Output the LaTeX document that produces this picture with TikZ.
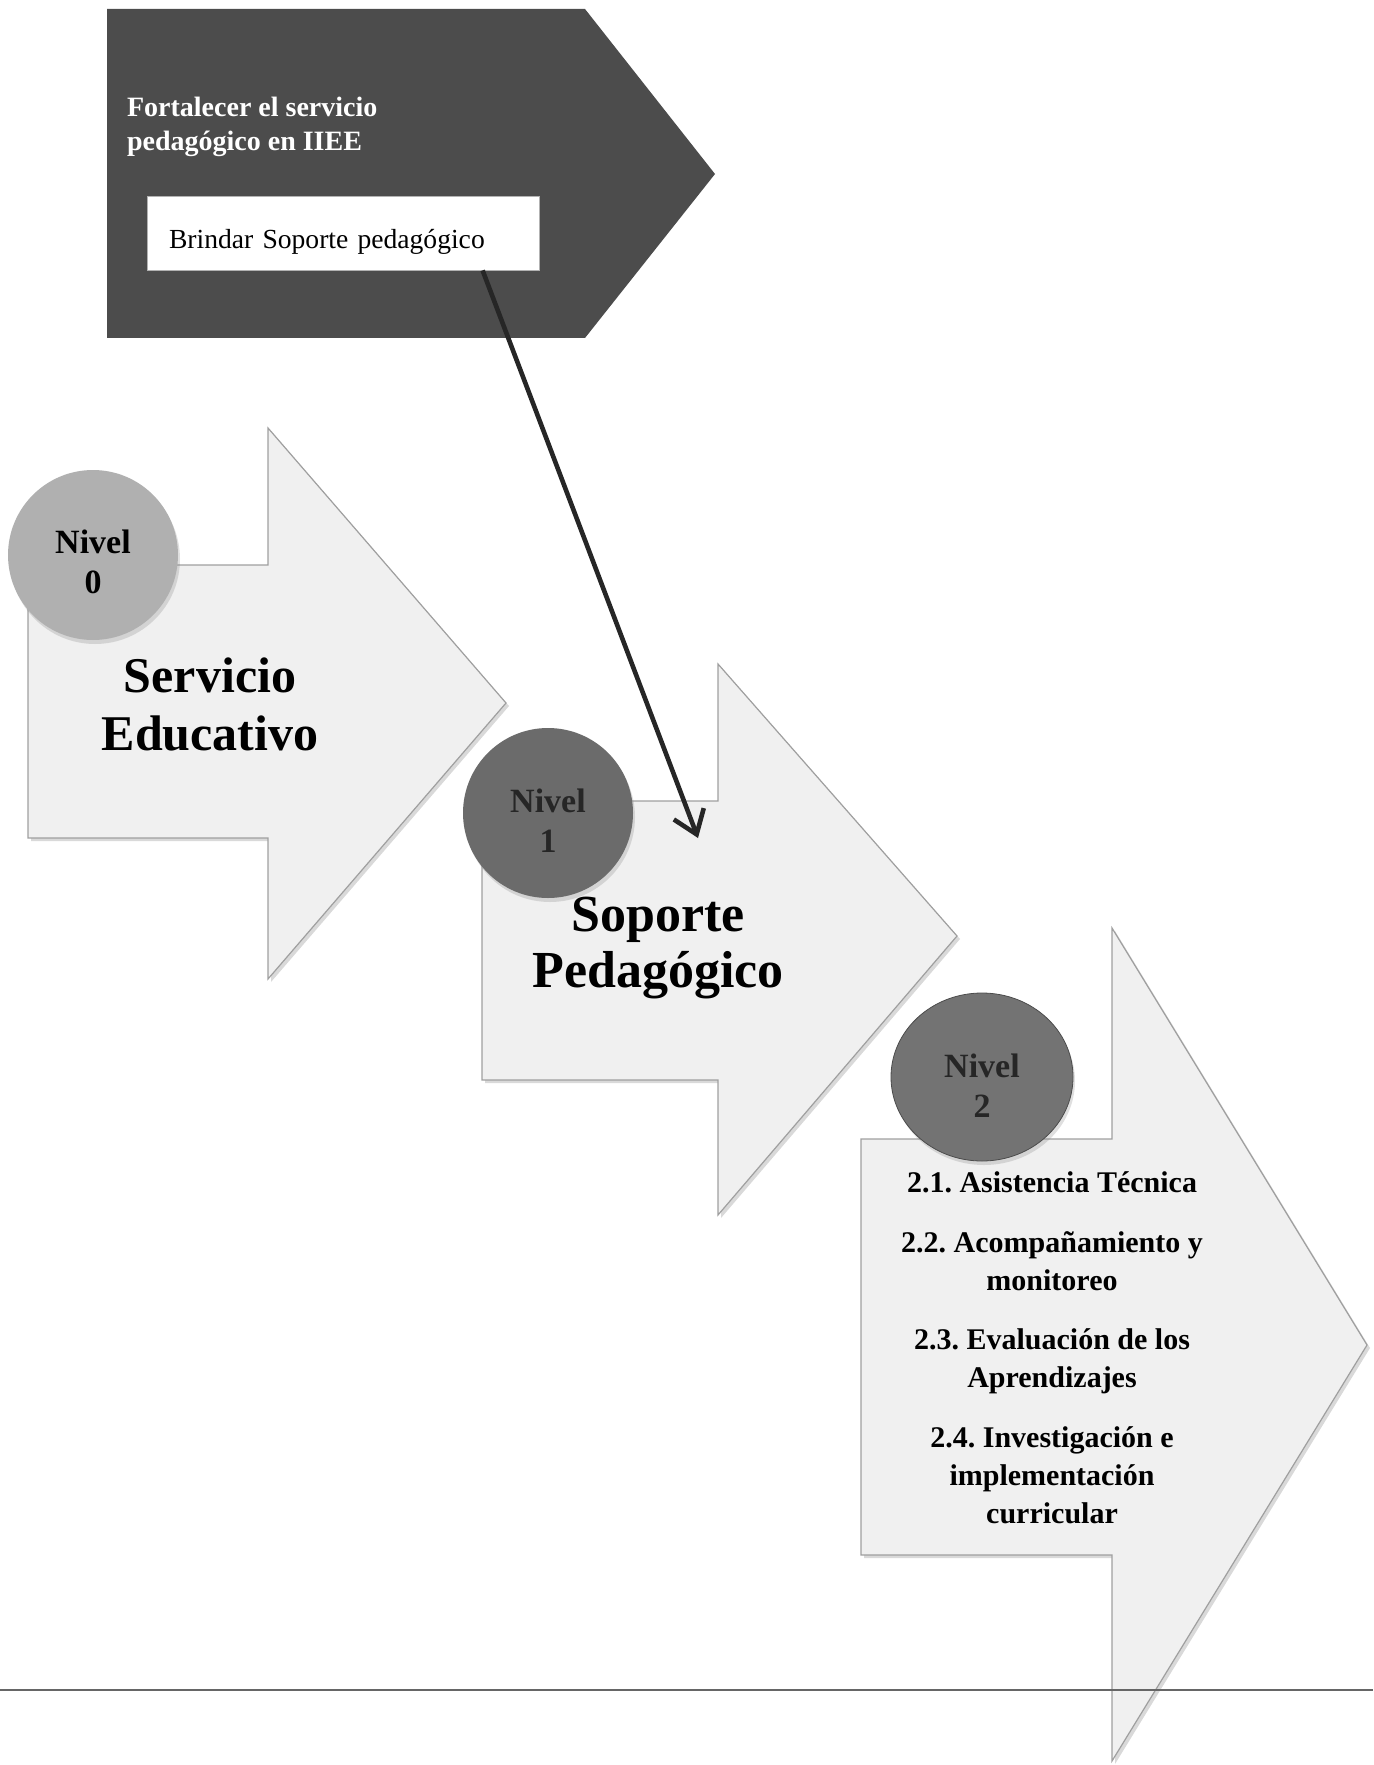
\documentclass[tikz,border=0pt]{standalone}
\usepackage{fontspec}
\setmainfont{Liberation Serif}
\usetikzlibrary{shapes.geometric,shadows,arrows.meta}
\frenchspacing

\begin{document}
\begin{tikzpicture}[x=0.5pt, y=-0.5pt, >={Straight Barb[length=11pt,width=16pt]},
        flecha/.style={fill=gray!12, draw=gray!75, line width=0.6pt,
            drop shadow={shadow xshift=1.5pt, shadow yshift=-1.5pt, opacity=0.3}},
        nivel/.style={circle, minimum size=85pt, inner sep=0pt, align=center,
            font=\fontsize{17}{20}\selectfont\bfseries,
            drop shadow={shadow xshift=1pt, shadow yshift=-2pt, opacity=0.25}},
        titulo/.style={align=center, font=\fontsize{25}{29}\selectfont\bfseries},
        item/.style={align=center, font=\fontsize{15}{19}\selectfont\bfseries}]
        \useasboundingbox (0,0) rectangle (1373,1765);

        % objetivo
        \fill [black!70] (107,9) -- (585,9) -- (715,174) -- (585,338) -- (107,338) -- cycle;
        \node [anchor=west, text=white, align=left, font=\fontsize{14}{17}\selectfont\bfseries]
            (objetivo) at (120,127) {Fortalecer el servicio\\pedagógico en IIEE};
        \node [draw=gray!60, fill=white, minimum height=37pt, text width=174pt,
            text height=19pt, text depth=3pt, inner xsep=11pt, inner ysep=0pt, align=left,
            font=\fontsize{13.8}{16}\selectfont]
            (brindar) at (343,233) {Brindar Soporte pedagógico};

        % flechas de nivel
        \draw [flecha] (28,565) -- (268,565) -- (268,428) -- (506,703) -- (268,979) -- (268,838) -- (28,838) -- cycle;
        \draw [flecha] (482,801) -- (718,801) -- (718,664) -- (957,936) -- (718,1215) -- (718,1080) -- (482,1080) -- cycle;
        \draw [flecha] (861,1139) -- (1112,1139) -- (1112,928) -- (1367,1345) -- (1112,1761) -- (1112,1555) -- (861,1555) -- cycle;

        \node [nivel, fill=gray!62] (n0) at (93,555) {\rule{0pt}{19pt}Nivel\\0};
        \node [nivel, fill=black!58, text=black!85] (n1) at (548,813) {\rule{0pt}{19pt}Nivel\\1};
        \node [nivel, shape=ellipse, minimum width=91pt, minimum height=84pt, fill=black!55,
            draw=black!70, text=black!85] (n2) at (982,1077) {\rule{0pt}{20pt}Nivel\\2};

        \node [titulo] (servicio) at (210,704) {Servicio\\Educativo};
        \node [titulo, font=\fontsize{26}{28}\selectfont\bfseries] (soporte) at (658,948) {Soporte\\Pedagógico};

        \node [item] (i1) at (1052,1182) {2.1. Asistencia Técnica};
        \node [item] (i2) at (1052,1261) {2.2. Acompañamiento y\\monitoreo};
        \node [item] (i3) at (1052,1361) {2.3. Evaluación de los\\Aprendizajes};
        \node [item] (i4) at (1052,1475) {2.4. Investigación e\\implementación\\curricular};

        \coordinate (destino) at (698,838);
        \draw [->, line width=2.3pt, black!85] (brindar.-15) -- (destino);

        \coordinate (reglaA) at (0,1690);
        \coordinate (reglaB) at (1373,1690);
        \draw [black!60, line width=0.6pt] (reglaA) -- (reglaB);
    \end{tikzpicture}
\end{document}
